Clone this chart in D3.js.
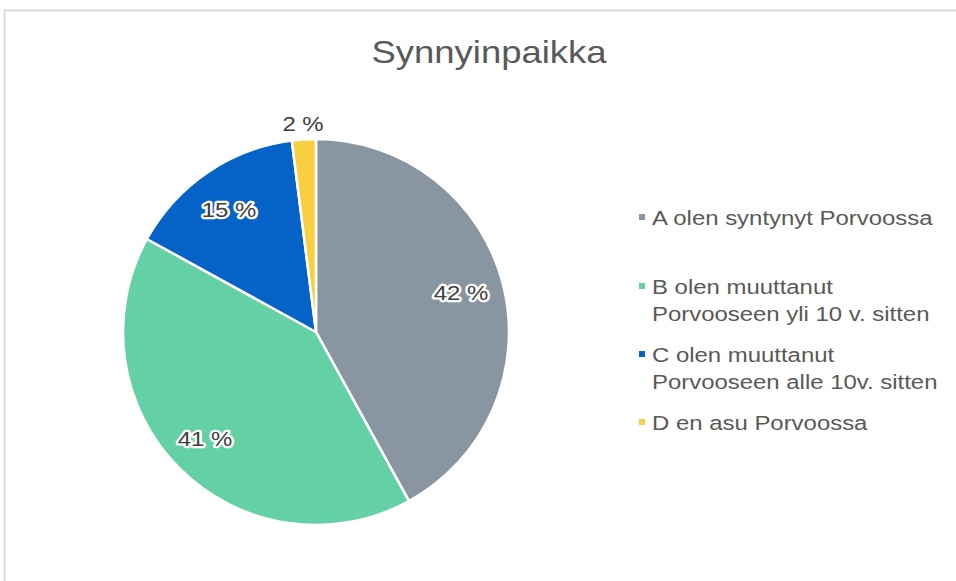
<!DOCTYPE html>
<html><head><meta charset="utf-8">
<script src="https://cdn.jsdelivr.net/npm/d3@7"></script>
<style>body{margin:0;background:#fff}svg{display:block}</style>
</head><body>
<svg id="c" width="956" height="581"></svg>
<script>
const categories = ["A olen syntynyt Porvoossa","B olen muuttanut Porvooseen yli 10 v. sitten","C olen muuttanut Porvooseen alle 10v. sitten","D en asu Porvoossa"];
const legendLines = [["A olen syntynyt Porvoossa"],["B olen muuttanut","Porvooseen yli 10 v. sitten"],["C olen muuttanut","Porvooseen alle 10v. sitten"],["D en asu Porvoossa"]];
const values = [42, 41, 15, 2];
const colors = ["#8995a0","#63d0a6","#0563c8","#f8cf40"];
const title = "Synnyinpaikka";

const svg = d3.select("#c");
const font = "Arial, 'Liberation Sans', sans-serif";
const SX = 1.14;
// frame
svg.append("line").attr("x1",4).attr("x2",956).attr("y1",10.5).attr("y2",10.5).attr("stroke","#d9d9d9").attr("stroke-width",2);
svg.append("line").attr("x1",4.5).attr("x2",4.5).attr("y1",10).attr("y2",581).attr("stroke","#d9d9d9").attr("stroke-width",2);

svg.append("text").attr("transform",`translate(489,63) scale(${SX},1)`).attr("text-anchor","middle")
  .attr("font-family",font).attr("font-size",32).attr("fill","#595959").text(title);

const cx=316, cy=332, r=193;
const pie = d3.pie().sort(null).value(d=>d);
const arcs = pie(values);
const arc = d3.arc().innerRadius(0).outerRadius(r);
const g = svg.append("g").attr("transform",`translate(${cx},${cy})`);
g.selectAll("path").data(arcs).join("path").attr("d",arc)
  .attr("fill",(d,i)=>colors[i]).attr("stroke","#fff").attr("stroke-width",2.5);

const labelPos = [[145,-40],[-111,106],[-87,-123],[-13,-209]];
const lg = g.append("g");
arcs.forEach((d,i)=>{
  const [x,y]=labelPos[i];
  const inside = i<3;
  const t = lg.append("text").attr("transform",`translate(${x},${y}) scale(${SX},1)`).attr("text-anchor","middle").attr("dy","0.36em")
    .attr("font-family",font).attr("font-size",21).attr("fill","#404040").text(values[i]+" %");
  if(inside){ t.attr("stroke","#fff").attr("stroke-width",4.5).attr("stroke-linejoin","round").attr("paint-order","stroke"); }
});

const legY = [225, 294, 362, 430];
const lgd = svg.append("g");
legendLines.forEach((lines,i)=>{
  lgd.append("rect").attr("x",639).attr("y",legY[i]-11).attr("width",6).attr("height",6).attr("fill",colors[i]);
  lines.forEach((ln,j)=>{
    lgd.append("text").attr("transform",`translate(652,${legY[i]+j*27}) scale(${SX},1)`)
      .attr("font-family",font).attr("font-size",21).attr("fill","#595959").text(ln);
  });
});
</script>
</body></html>
